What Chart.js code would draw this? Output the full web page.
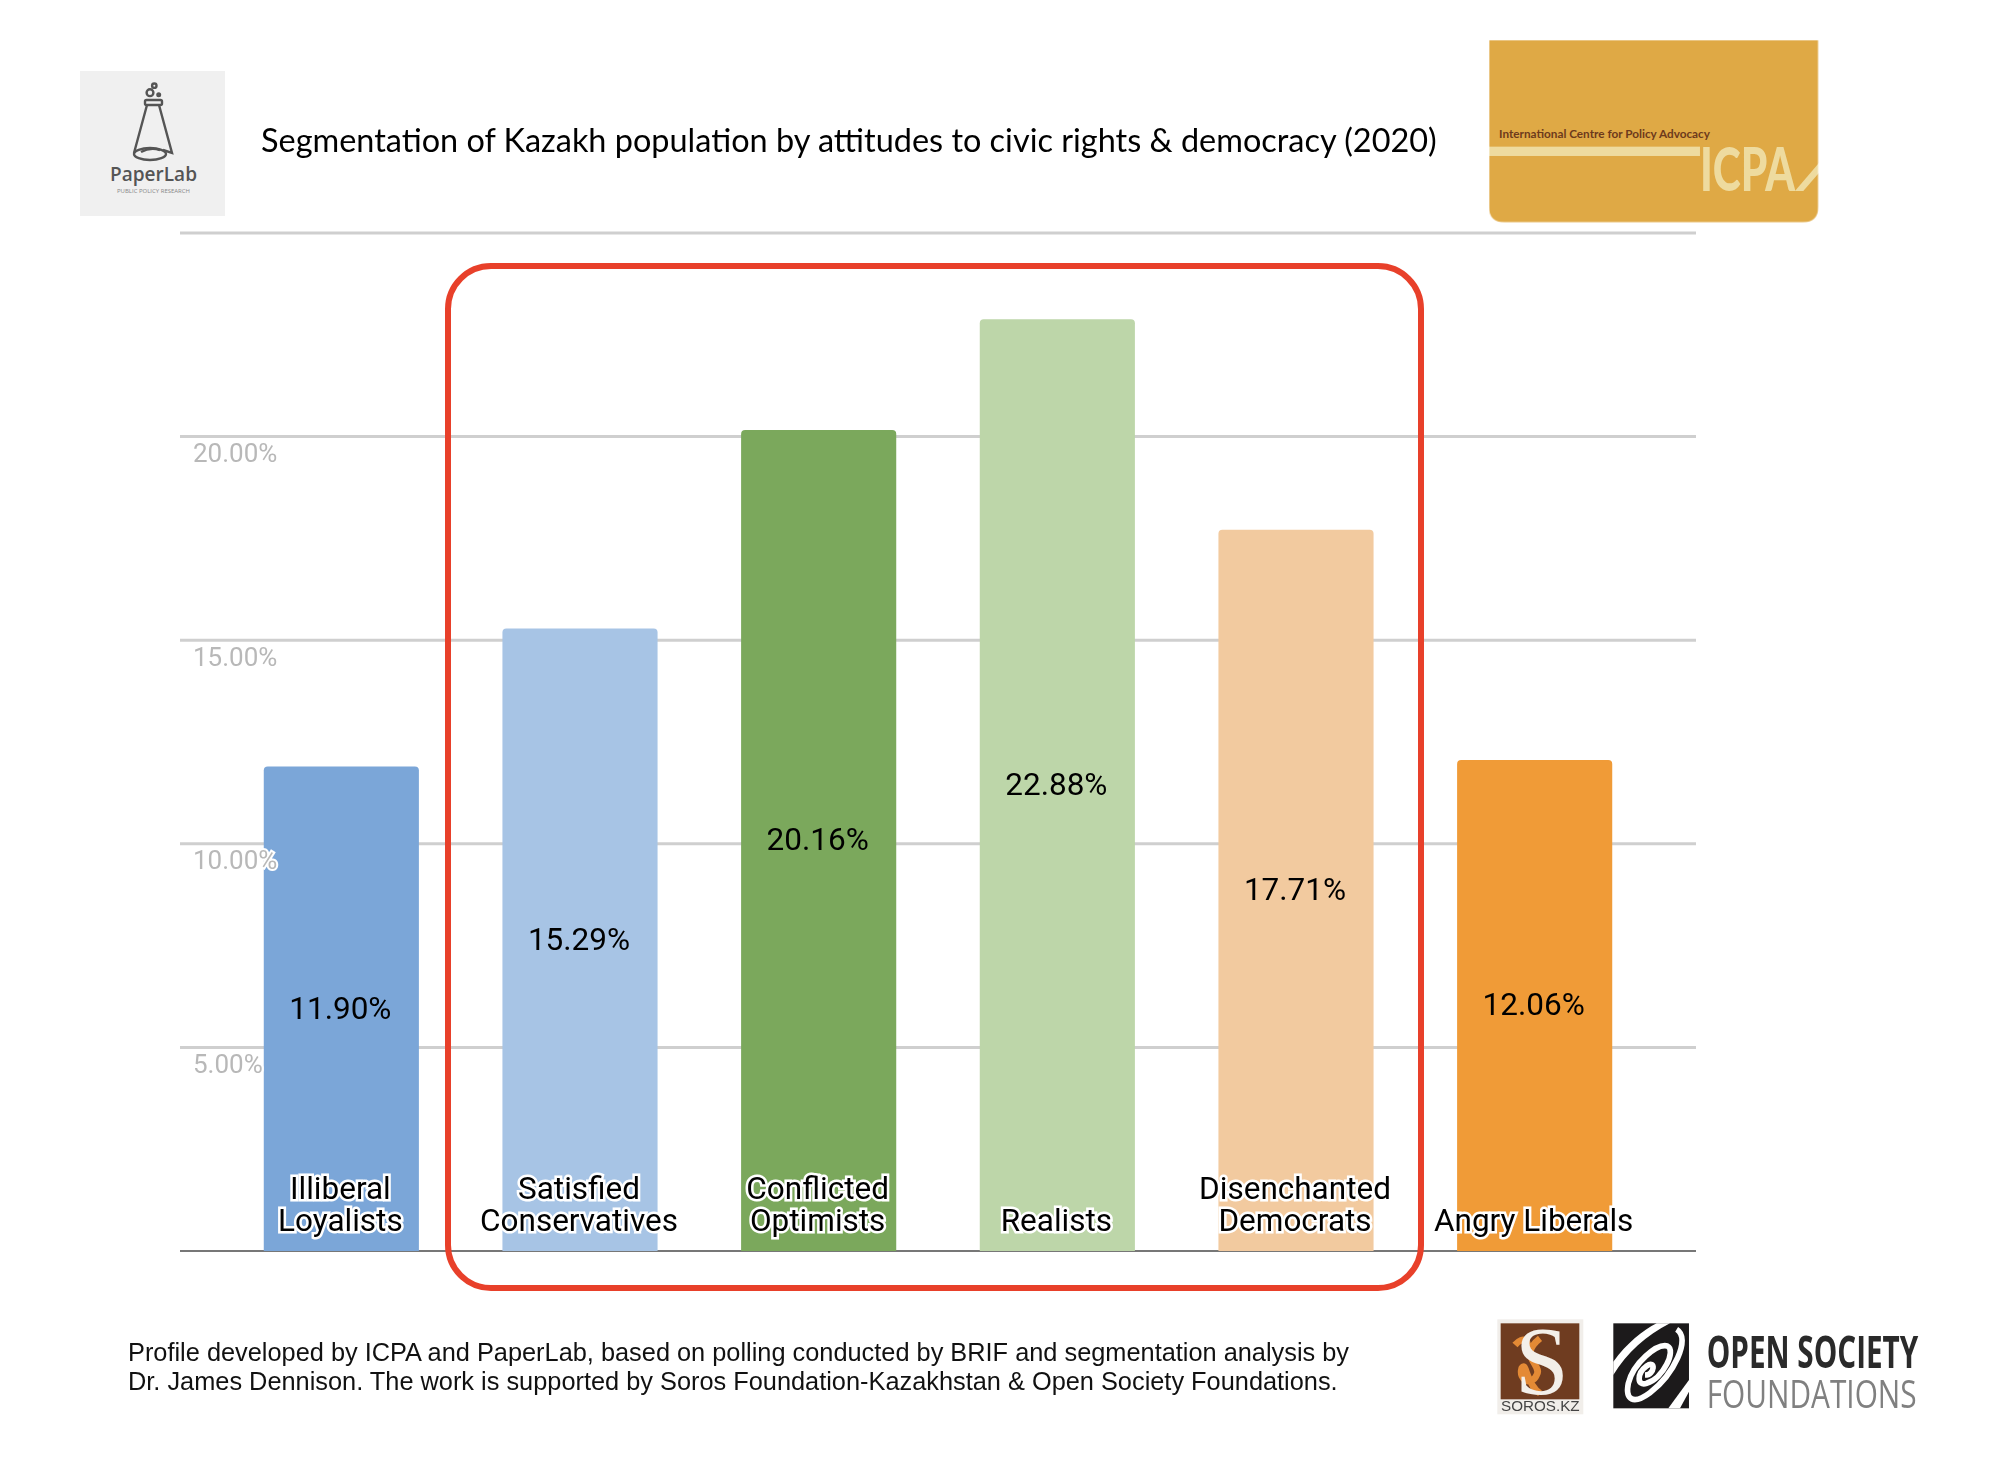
<!DOCTYPE html>
<html>
<head>
<meta charset="utf-8">
<title>Segmentation of Kazakh population</title>
<script src="https://cdn.jsdelivr.net/npm/chart.js@4"></script>
<style>
  html, body { margin: 0; padding: 0; background: #fff; }
  #page { position: relative; width: 2004px; height: 1480px; overflow: hidden; }
  #costChart { position: absolute; left: 0; top: 0; }
  #logos { position: absolute; left: 0; top: 0; }
  #title { position: absolute; left: 261px; top: 119px; font: 32.45px/42px Lato, sans-serif; color: #000; white-space: nowrap; }
  #frame { position: absolute; left: 445px; top: 263px; width: 979px; height: 1028px; box-sizing: border-box;
           border: 6px solid #e8402a; border-radius: 46px; }
  #footer { position: absolute; left: 128px; top: 1338px; font: 25.35px/29px "Liberation Sans", Arial, sans-serif; color: #111; white-space: nowrap; }
</style>
</head>
<body>
<div id="page">
  <canvas id="costChart" width="2004" height="1480"></canvas>
  <div id="title">Segmentation of Kazakh population by attitudes to civic rights &amp; democracy (2020)</div>
  <div id="frame"></div>
  <div id="footer">Profile developed by ICPA and PaperLab, based on polling conducted by BRIF and segmentation analysis by<br>Dr. James Dennison. The work is supported by Soros Foundation-Kazakhstan &amp; Open Society Foundations.</div>

  <svg id="logos" width="2004" height="1480" viewBox="0 0 2004 1480">
    <!-- PaperLab -->
    <rect x="80" y="71" width="145" height="145" fill="#f0f0f0"/>
    <g fill="none" stroke="#555" stroke-width="2.4">
      <circle cx="150" cy="92.7" r="3.4"/>
      <circle cx="154.3" cy="85.7" r="2.2"/>
      <circle cx="158.7" cy="94.7" r="1.3"/>
      <rect x="145" y="100" width="17" height="5" rx="1.5"/>
      <path d="M147 105 L134 153 M159 105 L172 153 L163 150"/>
      <ellipse cx="150" cy="154" rx="16" ry="6"/>
      <path d="M141 152 Q150 147 160 150"/>
    </g>
    <text x="110" y="181" font-family="Open Sans" font-weight="600" font-size="20" fill="#555" textLength="87" lengthAdjust="spacingAndGlyphs">PaperLab</text>
    <text x="117" y="193" font-family="Open Sans" font-size="5" fill="#888" textLength="73" lengthAdjust="spacingAndGlyphs">PUBLIC POLICY RESEARCH</text>

    <!-- ICPA -->
    <g transform="translate(1440,20) scale(0.3333)">
      <clipPath id="icpaClip"><path d="M147 60 H1135 V560 Q1135 607 1088 607 H194 Q147 607 147 560 Z"/></clipPath>
      <g clip-path="url(#icpaClip)">
        <rect x="147" y="60" width="988" height="547" fill="#dfa945"/>
        <rect x="147" y="380" width="633" height="28" fill="#eedb9f"/>
        <text x="177" y="355" font-family="Lato" font-weight="700" font-size="35" fill="#6d3a1c" textLength="633" lengthAdjust="spacingAndGlyphs">International Centre for Policy Advocacy</text>
        <text x="780" y="513" font-family="Lato" font-weight="900" font-size="185" fill="#eedb9f" textLength="285" lengthAdjust="spacingAndGlyphs">ICPA</text>
        <path d="M1065 513 L1140 425 V455 L1090 513 Z" fill="#eedb9f"/>
      </g>
    </g>

    <!-- Soros and Open Society -->
    <g transform="translate(1460,1300) scale(0.3333)">
      <rect x="112" y="58" width="258" height="285" fill="#f1eeea"/>
      <rect x="122" y="70" width="236" height="228" fill="#6f3c20"/>
      <path d="M165 135 C190 105 215 125 195 150 M240 115 C170 170 250 195 230 225 C215 260 175 240 185 205 C200 180 195 250 240 280" fill="none" stroke="#e48a35" stroke-width="20"/>
      <text x="165" y="282" font-family="Liberation Serif" font-size="290" fill="#f3efe9">S</text>
      <text x="241" y="333" text-anchor="middle" font-family="Liberation Sans" font-size="43" fill="#444" textLength="236" lengthAdjust="spacingAndGlyphs">SOROS.KZ</text>

      <rect x="460" y="70" width="227" height="255" fill="#1c1a1b"/>
      <path d="M460 185 C500 130 550 90 590 70 H630 C560 105 500 160 460 225 Z" fill="#fff"/>
      <path d="M687 240 V275 L660 325 H625 Z" fill="#fff"/>
      <path d="M650 88 C695 115 640 225 570 278 C520 315 495 300 505 250 C520 190 590 130 622 138 C650 150 610 235 560 250 C530 260 530 220 560 198 C588 178 585 225 555 225" fill="none" stroke="#fff" stroke-width="17"/>
      <text x="740" y="205" font-family="Open Sans" font-weight="700" font-size="135" fill="#2a2a2a" textLength="635" lengthAdjust="spacingAndGlyphs">OPEN SOCIETY</text>
      <text x="740" y="323" font-family="Open Sans" font-size="115" fill="#808080" textLength="630" lengthAdjust="spacingAndGlyphs">FOUNDATIONS</text>
    </g>
  </svg>
</div>

<script>
const segments = [
  ['Illiberal', 'Loyalists'],
  ['Satisfied', 'Conservatives'],
  ['Conflicted', 'Optimists'],
  ['', 'Realists'],
  ['Disenchanted', 'Democrats'],
  ['', 'Angry Liberals']
];
const shares = [11.90, 15.29, 20.16, 22.88, 17.71, 12.06];
const barColors = ['#7ba6d8', '#a7c4e5', '#7ba85c', '#bdd6a9', '#f2ca9f', '#f09b37'];
const yMin = 0;
const yMax = 25;
const yStep = 5;

// gridlines run past the plot on both sides, wider than the category band
const wideGrid = {
  id: 'wideGrid',
  beforeDatasetsDraw(chart) {
    const { ctx, scales: { y } } = chart;
    ctx.save();
    y.ticks.forEach(tick => {
      const py = y.getPixelForValue(tick.value);
      ctx.beginPath();
      ctx.moveTo(180, py);
      ctx.lineTo(1696, py);
      ctx.lineWidth = tick.value === 0 ? 2 : 3;
      ctx.strokeStyle = tick.value === 0 ? '#777777' : '#cfcfcf';
      ctx.stroke();
    });
    ctx.restore();
  }
};

const barValues = {
  id: 'barValues',
  afterDatasetsDraw(chart) {
    const { ctx } = chart;
    ctx.save();
    ctx.font = '31.5px Roboto';
    ctx.fillStyle = '#000';
    ctx.textAlign = 'center';
    ctx.textBaseline = 'middle';
    chart.getDatasetMeta(0).data.forEach((bar, i) => {
      ctx.fillText(shares[i].toFixed(2) + '%', bar.x - 1, (bar.y + bar.base) / 2 + 2);
    });
    ctx.restore();
  }
};

new Chart(document.getElementById('costChart').getContext('2d'), {
  type: 'bar',
  data: {
    labels: segments,
    datasets: [{
      data: shares,
      backgroundColor: barColors,
      borderRadius: { topLeft: 4, topRight: 4, bottomLeft: 0, bottomRight: 0 },
      borderSkipped: 'bottom',
      categoryPercentage: 1,
      barPercentage: 0.65
    }]
  },
  options: {
    responsive: false,
    animation: false,
    layout: { padding: { left: 222, right: 350, top: 233, bottom: 229 } },
    plugins: { legend: { display: false }, tooltip: { enabled: false } },
    scales: {
      x: {
        grid: { display: false, drawTicks: false },
        border: { display: false },
        afterFit(scale) { scale.height = 0; },
        ticks: {
          z: 1,
          mirror: true, // no clip to the zero-height axis box, padding counts upward
          autoSkip: false,
          maxRotation: 0,
          minRotation: 0,
          padding: 44,
          labelOffset: -1,
          color: '#000',
          textStrokeColor: '#fff',
          textStrokeWidth: 5,
          font: { family: 'Roboto', size: 31.5, lineHeight: 1.02 }
        }
      },
      y: {
        min: yMin,
        max: yMax,
        grid: { display: false, drawTicks: false },
        border: { display: false },
        afterFit(scale) { scale.width = 0; },
        ticks: {
          z: 1,
          stepSize: yStep,
          mirror: true,
          padding: -29,
          labelOffset: 19,
          color: '#b8b8b8',
          textStrokeColor: '#fff',
          textStrokeWidth: 4,
          font: { family: 'Roboto', size: 26 },
          callback: v => (v === yMin || v === yMax) ? '' : v.toFixed(2) + '%'
        }
      }
    }
  },
  plugins: [wideGrid, barValues]
});
</script>
</body>
</html>
